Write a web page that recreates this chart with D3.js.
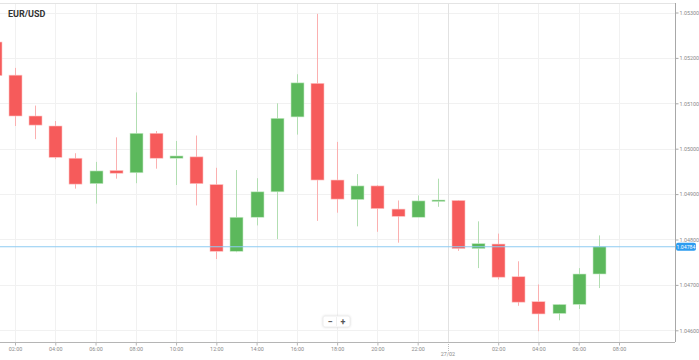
<!DOCTYPE html>
<html><head><meta charset="utf-8">
<script src="https://cdn.jsdelivr.net/npm/d3@7"></script>
<style>
html,body{margin:0;padding:0;background:#fff;}
svg{display:block;font-family:Roboto, "Open Sans", sans-serif;}
</style></head>
<body><svg id="c" width="699" height="360"></svg>
<script>
// Hourly candles starting 26/02 01:00
const startTime = "2025-02-26T01:00:00";
const opens  = [1.05235,1.05162,1.05072,1.05050,1.04979,1.04923,1.04952,1.04947,1.05034,1.04979,1.04982,1.04921,1.04774,1.04849,1.04905,1.05070,1.05144,1.04931,1.04888,1.04918,1.04867,1.04849,1.04884,1.04886,1.04780,1.04790,1.04718,1.04663,1.04637,1.04657,1.04724];
const highs  = [1.05244,1.05178,1.05095,1.05061,1.04990,1.04971,1.05025,1.05124,1.05039,1.05017,1.05029,1.04958,1.04953,1.04935,1.05100,1.05164,1.05297,1.05015,1.04944,1.04920,1.04886,1.04897,1.04934,1.04887,1.04840,1.04813,1.04752,1.04701,1.04657,1.04737,1.04809];
const lows   = [1.05160,1.05050,1.05021,1.04977,1.04912,1.04879,1.04934,1.04924,1.04956,1.04920,1.04875,1.04757,1.04772,1.04831,1.04801,1.05031,1.04841,1.04859,1.04829,1.04817,1.04793,1.04849,1.04872,1.04775,1.04737,1.04712,1.04654,1.04598,1.04622,1.04647,1.04693];
const closes = [1.05161,1.05072,1.05052,1.04981,1.04922,1.04951,1.04946,1.05034,1.04979,1.04984,1.04923,1.04774,1.04849,1.04905,1.05067,1.05145,1.04931,1.04889,1.04918,1.04868,1.04851,1.04885,1.04887,1.04780,1.04791,1.04717,1.04662,1.04636,1.04657,1.04724,1.04784];
const yTicks = [1.046,1.047,1.048,1.049,1.050,1.051,1.052,1.053];
const xTickHours = ["02:00","04:00","06:00","08:00","10:00","12:00","14:00","16:00","18:00","20:00","22:00","02:00","04:00","06:00","08:00"];
const dayLabel = "27/02";
const currentPrice = 1.04784;
const title = "EUR/USD";

const svg = d3.select("#c");
const W = 699, H = 360;
const plotL = 0, plotR = 675, plotT = 3, plotB = 342;
const parse = d3.timeParse("%Y-%m-%dT%H:%M:%S");
const t0 = parse(startTime);
const times = opens.map((d,i)=>d3.timeHour.offset(t0,i));

const x = d3.scaleTime()
  .domain([d3.timeHour.offset(t0,1), d3.timeHour.offset(t0,31)])
  .range([15, 619]);
const y = d3.scaleLinear().domain([1.046,1.053]).range([330.3,12.5]);
const step = x(d3.timeHour.offset(t0,1)) - x(t0);
const bw = 13;

const clip = svg.append("clipPath").attr("id","pc").append("rect")
  .attr("x",plotL).attr("y",plotT).attr("width",plotR-plotL).attr("height",plotB-plotT);

// x tick times: every 2 hours from 26/02 02:00
const xTickTimes = xTickHours.map((s,i)=>{
  // first 11 on 26/02, remaining on 27/02
  const day = i < 11 ? "2025-02-26" : "2025-02-27";
  return parse(day+"T"+s+":00");
});
const dayStart = parse("2025-02-27T00:00:00");
const dayX = x(dayStart) - step/2;

// grid
const g = svg.append("g");
g.selectAll("line.hg").data(yTicks).join("line")
  .attr("x1",plotL).attr("x2",plotR).attr("y1",d=>Math.round(y(d))+0.5).attr("y2",d=>Math.round(y(d))+0.5)
  .attr("stroke","#f1f1f1").attr("stroke-width",1);
g.selectAll("line.vg").data(xTickTimes).join("line")
  .attr("x1",d=>Math.round(x(d))+0.5).attr("x2",d=>Math.round(x(d))+0.5).attr("y1",plotT).attr("y2",plotB)
  .attr("stroke","#f1f1f1").attr("stroke-width",1);
// day separator
g.append("line").attr("x1",Math.round(dayX)+0.5).attr("x2",Math.round(dayX)+0.5)
  .attr("y1",plotT).attr("y2",plotB).attr("stroke","#e2e2e2");
g.append("line").attr("x1",Math.round(dayX)+0.5).attr("x2",Math.round(dayX)+0.5)
  .attr("y1",plotB).attr("y2",plotB+9).attr("stroke","#bbb").attr("stroke-dasharray","1,1");

// top border
svg.append("line").attr("x1",plotL).attr("x2",plotR).attr("y1",plotT+0.5).attr("y2",plotT+0.5).attr("stroke","#e4e4e4");

// candles
const cg = svg.append("g").attr("clip-path","url(#pc)");
const data = times.map((t,i)=>({t,o:opens[i],h:highs[i],l:lows[i],c:closes[i]}));
const up = "#5cb85c", dn = "#f65b5b", upW = "#b2deb2", dnW = "#fbb0b0";
cg.selectAll("line.wick").data(data).join("line")
  .attr("x1",d=>Math.round(x(d.t))+0.5).attr("x2",d=>Math.round(x(d.t))+0.5)
  .attr("y1",d=>y(d.h)).attr("y2",d=>y(d.l))
  .attr("stroke",d=>d.c>=d.o?upW:dnW).attr("stroke-width",1);
cg.selectAll("rect.body").data(data).join("rect")
  .attr("x",d=>Math.round(x(d.t)) - bw/2 + 0.5).attr("width",bw)
  .attr("y",d=>y(Math.max(d.o,d.c)))
  .attr("height",d=>Math.max(1.5,Math.abs(y(d.o)-y(d.c))))
  .attr("fill",d=>d.c>=d.o?up:dn)
  .attr("stroke",d=>d.c>=d.o?"#c9ebc9":"#fdc4c4").attr("stroke-width",0.6);

// current price line
svg.append("line").attr("x1",plotL).attr("x2",plotR).attr("y1",y(currentPrice)).attr("y2",y(currentPrice))
  .attr("stroke","#8ecbf2").attr("stroke-width",1);

// axes
const ya = svg.append("g").attr("transform",`translate(${plotR+0.5},0)`)
  .call(d3.axisRight(y).tickValues(yTicks).tickFormat(d3.format(".5f")).tickSize(3).tickPadding(1));
ya.select(".domain").attr("d",`M0,${plotT}V${plotB}`).attr("stroke","#a8a8a8");
ya.selectAll(".tick line").attr("stroke","#a8a8a8");
ya.selectAll(".tick text").attr("fill","#8a8a8a").attr("font-size",5.4).attr("font-family","Roboto, sans-serif");

const xa = svg.append("g").attr("transform",`translate(0,${plotB+0.5})`)
  .call(d3.axisBottom(x).tickValues(xTickTimes).tickFormat((d,i)=>xTickHours[i]).tickSize(3).tickPadding(2));
xa.select(".domain").attr("d",`M${plotL},0H${plotR}`).attr("stroke","#b5b5b5");
xa.selectAll(".tick line").attr("stroke","#b5b5b5");
xa.selectAll(".tick text").attr("fill","#8a8a8a").attr("font-size",5.4).attr("font-family","Roboto, sans-serif");

svg.append("text").attr("x",dayX).attr("y",356).attr("text-anchor","middle")
  .attr("fill","#8a8a8a").attr("font-size",5.4).text(dayLabel);

// current price label
const cpy = y(currentPrice);
svg.append("rect").attr("x",plotR+1).attr("y",cpy-4).attr("width",20).attr("height",8).attr("rx",2)
  .attr("fill","#2c9cf0");
svg.append("text").attr("x",plotR+11).attr("y",cpy+1.9).attr("text-anchor","middle")
  .attr("fill","#fff").attr("font-size",5.2).text(d3.format(".5f")(currentPrice));

// title
svg.append("text").attr("x",8).attr("y",17).attr("font-size",9).attr("font-weight","bold")
  .attr("fill","#333").text(title);

// zoom buttons
const zb = svg.append("g").attr("transform","translate(323,316)");
zb.append("rect").attr("x",0).attr("y",0).attr("width",27).attr("height",11).attr("rx",2)
  .attr("fill","#fff").attr("stroke","#eee").style("filter","drop-shadow(0 0.5px 1px rgba(0,0,0,0.12))");
zb.append("line").attr("x1",13.5).attr("x2",13.5).attr("y1",1).attr("y2",10).attr("stroke","#f0f0f0");
zb.append("text").attr("x",7).attr("y",8.6).attr("text-anchor","middle").attr("font-size",9).attr("font-weight","bold").attr("fill","#555").text("−");
zb.append("text").attr("x",20).attr("y",8.6).attr("text-anchor","middle").attr("font-size",9).attr("font-weight","bold").attr("fill","#555").text("+");
</script></body></html>
